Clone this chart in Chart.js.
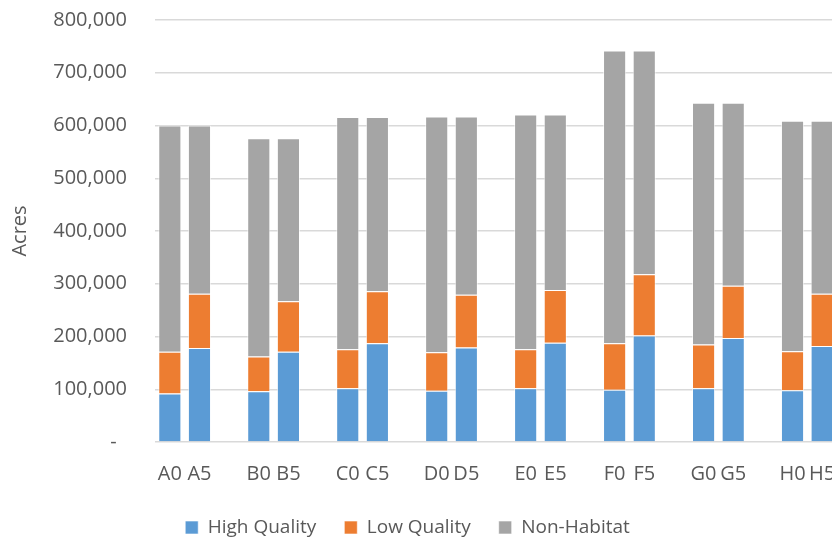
<!DOCTYPE html>
<html lang="en">
<head>
    <meta charset="UTF-8">
    <title>Habitat Acres</title>
    <script src="https://cdn.jsdelivr.net/npm/chart.js"></script>
    <style>
        html, body { margin: 0; padding: 0; background: #fff; overflow: hidden; }
        #wrap { width: 832px; height: 539px; overflow: hidden; }
    </style>
</head>
<body>
<div id="wrap">
    <canvas id="habitatChart" width="837" height="547"></canvas>
</div>
<script>
    // empty strings leave a gap between the site pairs
    const categories = ['A0', 'A5', '', 'B0', 'B5', '', 'C0', 'C5', '', 'D0', 'D5', '', 'E0', 'E5', '', 'F0', 'F5', '', 'G0', 'G5', '', 'H0', 'H5'];
    const highQuality = [92000, 178000, null, 96000, 171000, null, 102000, 187000, null, 97000, 179000, null, 102000, 188000, null, 99000, 202000, null, 102000, 197000, null, 98000, 182000];
    const lowQuality = [79000, 103000, null, 66000, 96000, null, 74000, 99000, null, 73000, 100000, null, 74000, 100000, null, 88000, 116000, null, 83000, 99000, null, 74000, 99000];
    const nonHabitat = [429000, 319000, null, 414000, 309000, null, 440000, 330000, null, 447000, 338000, null, 445000, 333000, null, 555000, 424000, null, 458000, 347000, null, 437000, 328000];
    const yTicks = [0, 100000, 200000, 300000, 400000, 500000, 600000, 700000, 800000];

    const textColor = '#595959';
    const font = { family: '"Open Sans", sans-serif', size: 20 };

    // nudge the legend a little left of the canvas centre
    const legendShift = {
        id: 'legendShift',
        afterLayout(chart) {
            chart.legend.left -= 11;
            chart.legend.right -= 11;
        }
    };

    function barSet(label, data, color) {
        return {
            label: label,
            data: data,
            backgroundColor: color,
            borderColor: 'rgba(255,255,255,0.6)',
            borderWidth: 1,
            categoryPercentage: 1.0,
            barPercentage: 0.78
        };
    }

    new Chart(document.getElementById('habitatChart'), {
        type: 'bar',
        data: {
            labels: categories,
            datasets: [
                barSet('High Quality', highQuality, '#5b9bd5'),
                barSet('Low Quality', lowQuality, '#ed7d31'),
                barSet('Non-Habitat', nonHabitat, '#a5a5a5')
            ]
        },
        options: {
            responsive: false,
            devicePixelRatio: 1,
            animation: false,
            layout: { padding: { top: 20, left: 0, right: 0, bottom: 0 } },
            plugins: {
                tooltip: { enabled: false },
                legend: {
                    position: 'bottom',
                    labels: {
                        boxWidth: 13,
                        boxHeight: 13,
                        padding: 28,
                        color: textColor,
                        font: { family: font.family, size: 19 }
                    }
                }
            },
            scales: {
                x: {
                    stacked: true,
                    grid: { display: false },
                    border: { display: false },
                    ticks: { color: textColor, font: font, padding: 12, maxRotation: 0, autoSkip: false },
                    afterFit(scale) {
                        scale.height = 48;
                        scale.paddingLeft = 0;
                        scale.paddingRight = 0;
                    }
                },
                y: {
                    stacked: true,
                    min: 0,
                    max: 800000,
                    afterBuildTicks(scale) { scale.ticks = yTicks.map(v => ({ value: v })); },
                    afterFit(scale) {
                        scale.width = 155;
                        scale.paddingTop = 0;
                        scale.paddingBottom = 0;
                    },
                    grid: { color: '#d9d9d9', lineWidth: 1.5, drawTicks: false },
                    border: { display: false },
                    ticks: {
                        color: textColor,
                        font: font,
                        padding: 28,
                        callback: v => v === 0 ? '-  ' : v.toLocaleString('en-US')
                    },
                    title: {
                        display: true,
                        text: 'Acres',
                        color: textColor,
                        font: font,
                        padding: { top: 8, bottom: 17 }
                    }
                }
            }
        },
        plugins: [legendShift]
    });
</script>
</body>
</html>
